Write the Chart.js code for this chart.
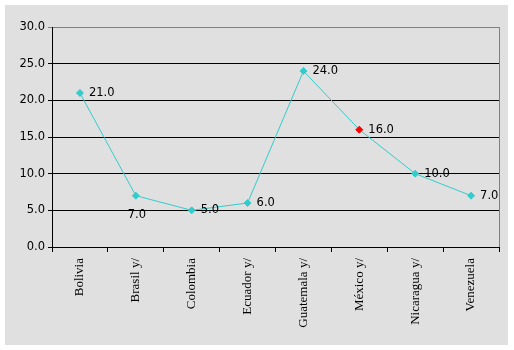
<!DOCTYPE html>
<html>
<head>
<meta charset="utf-8">
<title>Line chart by country</title>
<script src="https://cdn.jsdelivr.net/npm/chart.js"></script>
<style>
html, body { margin: 0; padding: 0; background: #ffffff; }
#wrap { width: 514px; height: 350px; }
</style>
</head>
<body>
  <div id="wrap">
    <canvas id="myChart" width="514" height="350"></canvas>
  </div>

  <script>
  const countries = ['Bolivia', 'Brasil y/', 'Colombia', 'Ecuador y/', 'Guatemala y/', 'México y/', 'Nicaragua y/', 'Venezuela'];
  const values = [21.0, 7.0, 5.0, 6.0, 24.0, 16.0, 10.0, 7.0];
  const pointColors = ['#33CCCC', '#33CCCC', '#33CCCC', '#33CCCC', '#33CCCC', '#FF0000', '#33CCCC', '#33CCCC'];

  const sansFont = '"DejaVu Sans", sans-serif';

  // gray panel behind the chart + right border of the plot area
  const panel = {
    id: 'panel',
    beforeDraw(chart) {
      const ctx = chart.ctx;
      ctx.save();
      ctx.fillStyle = '#E0E0E0';
      ctx.fillRect(5, 5, 503, 340);
      ctx.restore();
    },
    afterDraw(chart) {
      const a = chart.chartArea;
      const ctx = chart.ctx;
      ctx.save();
      ctx.strokeStyle = '#808080';
      ctx.lineWidth = 1;
      ctx.beginPath();
      ctx.moveTo(Math.round(a.right) + 0.5, a.top);
      ctx.lineTo(Math.round(a.right) + 0.5, a.bottom);
      ctx.stroke();
      ctx.restore();
    }
  };

  // value labels next to the points
  const valueLabels = {
    id: 'valueLabels',
    afterDatasetsDraw(chart) {
      const ctx = chart.ctx;
      const meta = chart.getDatasetMeta(0);
      ctx.save();
      ctx.font = '11.5px ' + sansFont;
      ctx.fillStyle = '#000000';
      meta.data.forEach((pt, i) => {
        const txt = values[i].toFixed(1);
        if (i === 1) {
          ctx.textAlign = 'center';
          ctx.textBaseline = 'middle';
          ctx.fillText(txt, pt.x + 1, pt.y + 19);
        } else {
          ctx.textAlign = 'left';
          ctx.textBaseline = 'middle';
          ctx.fillText(txt, pt.x + 9, pt.y);
        }
      });
      ctx.restore();
    }
  };

  const ctx = document.getElementById('myChart').getContext('2d');
  new Chart(ctx, {
    type: 'line',
    data: {
      labels: countries,
      datasets: [{
        data: values,
        borderColor: '#33CCCC',
        borderWidth: 1,
        pointStyle: 'rectRot',
        pointRadius: 3.5,
        pointHoverRadius: 3.5,
        pointBackgroundColor: pointColors,
        pointBorderColor: pointColors,
        pointBorderWidth: 1,
        tension: 0,
        fill: false
      }]
    },
    options: {
      responsive: false,
      animation: false,
      events: [],
      layout: { padding: { top: 27, right: 15, left: 0, bottom: 0 } },
      plugins: {
        legend: { display: false },
        tooltip: { enabled: false }
      },
      scales: {
        x: {
          offset: true,
          grid: {
            offset: true,
            drawOnChartArea: false,
            color: '#000000',
            tickLength: 5
          },
          border: { color: '#000000' },
          ticks: {
            minRotation: 90,
            maxRotation: 90,
            autoSkip: false,
            padding: 6,
            color: '#000000',
            font: { family: '"Liberation Serif", serif', size: 13 }
          },
          afterFit(scale) { scale.height = 103; }
        },
        y: {
          min: 0,
          max: 30,
          grid: {
            color: c => c.tick && c.tick.value === 30 ? '#808080' : '#000000',
            tickLength: 4
          },
          border: { color: '#000000' },
          ticks: {
            stepSize: 5,
            padding: 3,
            color: '#000000',
            font: { family: sansFont, size: 11.5 },
            callback: v => v.toFixed(1)
          },
          afterFit(scale) { scale.width = 52; }
        }
      }
    },
    plugins: [panel, valueLabels]
  });
  </script>
</body>
</html>
